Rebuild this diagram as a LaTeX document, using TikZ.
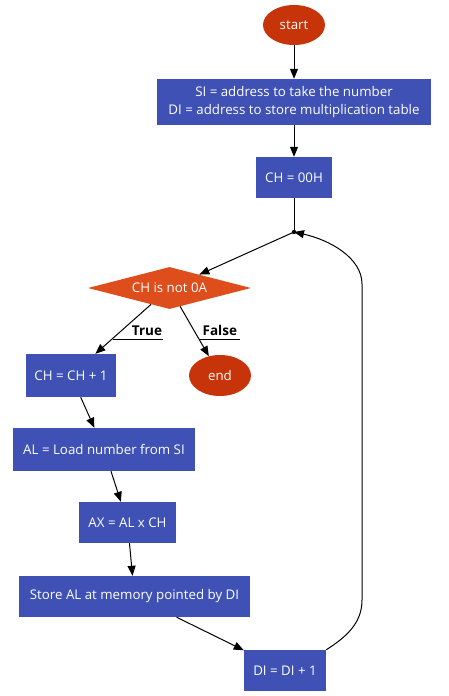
\documentclass[tikz,border=0pt]{standalone}
\usepackage{fontspec}
\setmainfont{Open Sans}
\usetikzlibrary{shapes.geometric,arrows.meta}
\definecolor{boxblue}{RGB}{63,81,181}
\definecolor{termred}{RGB}{200,52,10}
\definecolor{decorange}{RGB}{222,78,28}
\begin{document}
\begin{tikzpicture}[x=1pt,y=-1pt,
  basefont/.style={font=\fontsize{13.3}{17.5}\selectfont},
  proc/.style={rectangle, fill=boxblue, text=white, inner sep=0pt, align=center, basefont},
  term/.style={ellipse, fill=termred, text=white, inner sep=0pt, minimum width=62, minimum height=40, basefont},
  decision/.style={diamond, fill=decorange, text=white, inner sep=0pt, aspect=3.9, minimum width=163, minimum height=42, basefont},
  arr/.style={-{Triangle[length=10pt,width=8pt]}, line width=1pt},
  plain/.style={line width=1pt},
  lbl/.style={font=\fontsize{13.5}{16}\selectfont\bfseries, inner sep=0pt, align=right, minimum height=16}
]
\useasboundingbox (0,0) rectangle (449,696);

\node[term] (start) at (294,25) {start};
\node[proc, minimum width=274, minimum height=46] (init) at (294,102)
  {SI = address to take the number\\DI = address to store multiplication table};
\node[proc, minimum width=76, minimum height=41] (ch0) at (294,177.5) {CH = 00H};
\coordinate (j) at (294,232);
\node[decision] (dec) at (169.5,288) {CH is not 0A};
\node[proc, minimum width=90, minimum height=43] (inc) at (71,375.5) {CH = CH + 1};
\node[term, minimum height=41] (end) at (220,375.5) {end};
\node[proc, minimum width=182, minimum height=43] (load) at (104,449.5) {AL = Load number from SI};
\node[proc, minimum width=97, minimum height=41] (mul) at (127.5,522.5) {AX = AL x CH};
\node[proc, minimum width=231, minimum height=41] (store) at (134.5,596.5) {Store AL at memory pointed by DI};
\node[proc, minimum width=82, minimum height=41] (di) at (285,670.5) {DI = DI + 1};

\node[lbl, text width=50, anchor=south] (ltrue) at (138,339) {True\kern1pt};
\node[lbl, text width=40, anchor=south] (lfalse) at (220,339) {False\kern3pt};
\draw[plain] (ltrue.south west) -- (ltrue.south east);
\draw[plain] (lfalse.south west) -- (lfalse.south east);

\draw[arr] (start) -- (init);
\draw[arr] (init) -- (ch0);
\draw[plain] (ch0) -- (j);
\fill (j) circle (2.2);
\draw[arr] (j) -- (dec);
\draw[arr] (dec) -- (inc);
\draw[arr] (dec) -- (end);
\draw[arr] (inc) -- (load);
\draw[arr] (load) -- (mul);
\draw[arr] (mul) -- (store);
\draw[arr] (store) -- (di);
\draw[arr] (di.north east) .. controls (348,636) and (362,622) .. (362,600)
  -- (362,284) .. controls (362,258) and (330,240) .. (j);
\end{tikzpicture}
\end{document}
